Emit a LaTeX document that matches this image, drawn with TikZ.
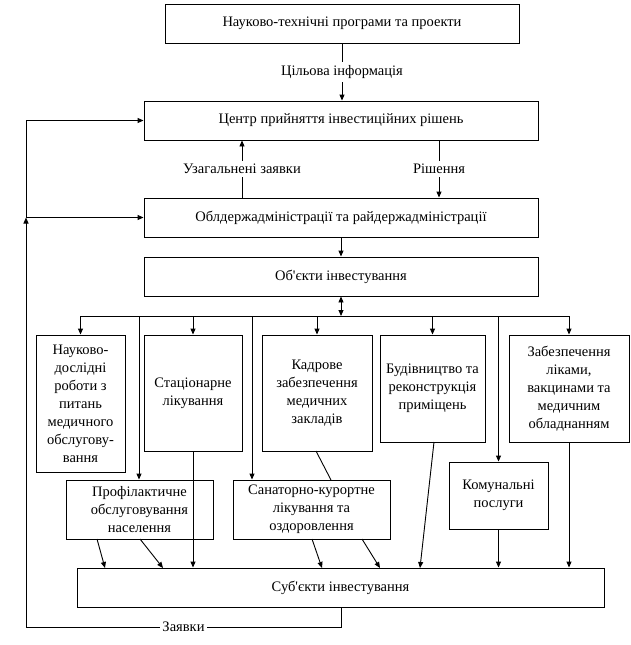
\documentclass[tikz,border=0pt]{standalone}
\usepackage{fontspec}
\setmainfont{Liberation Serif}[Ligatures=TeXOff]
\usetikzlibrary{arrows.meta}
\begin{document}
\begin{tikzpicture}[x=1pt,y=-1pt, line width=0.9pt,
  font=\fontsize{14.5pt}{18pt}\selectfont,
  box/.style={draw, rectangle, inner sep=0pt, align=center},
  arr/.style={-{Triangle[length=6pt,width=5pt]}},
  darr/.style={{Triangle[length=6pt,width=5pt]}-{Triangle[length=6pt,width=5pt]}},
  lbl/.style={fill=white, inner xsep=2pt, inner ysep=3pt}]
\useasboundingbox (0,0) rectangle (631,645);
\fill[white] (0,0) rectangle (631,645);
% main column
\node[box, minimum width=354pt, minimum height=39pt] (top) at (342,23.5) {Науково-технічні програми та проекти};
\node[box, minimum width=394pt, minimum height=39pt] (cent) at (341,120.5) {Центр прийняття інвестиційних рішень};
\node[box, minimum width=394pt, minimum height=39pt] (obl) at (341,217.5) {Облдержадміністрації та райдержадміністрації};
\node[box, minimum width=394pt, minimum height=39pt] (obj) at (341,276.5) {Об'єкти інвестування};
% row of boxes
\node[box, minimum width=89pt, minimum height=137pt] (b1) at (80.5,403.5) {Науково-\\дослідні\\роботи з\\питань\\медичного\\обслугову-\\вання};
\node[box, minimum width=98pt, minimum height=116pt] (b2) at (193,393) {Стаціонарне\\лікування};
\node[box, minimum width=110pt, minimum height=116pt] (b3) at (317,393) {Кадрове\\забезпечення\\медичних\\закладів};
\node[box, minimum width=105pt, minimum height=107pt] (b4) at (432.5,388.5) {Будівництво та\\реконструкція\\приміщень};
\node[box, minimum width=120pt, minimum height=107pt] (b5) at (569,388.5) {Забезпечення\\ліками,\\вакцинами та\\медичним\\обладнанням};
\node[box, minimum width=147pt, minimum height=59pt] (b6) at (139.5,509.5) {Профілактичне\\обслуговування\\населення};
\node[box, minimum width=157pt, minimum height=59pt] (b7) at (311.5,509.5) {Санаторно-курортне\\лікування та\\оздоровлення};
\node[box, minimum width=99pt, minimum height=67pt] (b8) at (498.5,495.5) {Комунальні\\послуги};
\node[box, minimum width=527pt, minimum height=39pt] (subj) at (340.5,587.5) {Суб'єкти інвестування};
% upper connectors
\draw[arr] (top.south) -- node[lbl] (l1) {Цільова інформація} (top.south |- cent.north);
\coordinate (ua) at (242,198);
\draw[arr] (ua) -- node[lbl] (l2) {Узагальнені заявки} (ua |- cent.south);
\coordinate (rs) at (439,140);
\draw[arr] (rs) -- node[lbl] (l3) {Рішення} (rs |- obl.north);
\draw[arr] (obl.south) -- (obj.north);
\coordinate (dm) at (341,316);
\draw[darr] (obj.south) -- (dm);
% distribution line
\draw (b1.north |- dm) -- (b5.north |- dm);
\coordinate (d6) at (139,316);
\coordinate (d7) at (252,316);
\draw[arr] (b1.north |- dm) -- (b1.north);
\draw[arr] (d6) -- (d6 |- b6.north);
\draw[arr] (b2.north |- dm) -- (b2.north);
\draw[arr] (d7) -- (d7 |- b7.north);
\draw[arr] (b3.north |- dm) -- (b3.north);
\draw[arr] (b4.north |- dm) -- (b4.north);
\draw[arr] (b8.north |- dm) -- (b8.north);
\draw[arr] (b5.north |- dm) -- (b5.north);
% lower connectors
\draw[arr] (b2.south) -- (b2.south |- subj.north);
\coordinate (s3) at (316,451);
\coordinate (t7) at (331,480);
\draw (s3) -- (t7);
\coordinate (s4) at (434,442);
\coordinate (t4) at (420,568);
\draw[arr] (s4) -- (t4);
\draw[arr] (b5.south) -- (b5.south |- subj.north);
\draw[arr] (b8.south) -- (b8.south |- subj.north);
\coordinate (s61) at (97,539);
\coordinate (t61) at (105,568);
\coordinate (s62) at (140,539);
\coordinate (t62) at (163,568);
\draw[arr] (s61) -- (t61);
\draw[arr] (s62) -- (t62);
\coordinate (s71) at (312,539);
\coordinate (t71) at (322,568);
\coordinate (s72) at (362,539);
\coordinate (t72) at (380,568);
\draw[arr] (s71) -- (t71);
\draw[arr] (s72) -- (t72);
% feedback loop
\coordinate (lb) at (341,627);
\coordinate (lp) at (26,627);
\coordinate (jn) at (26,217.5);
\draw[arr] (subj.south -| lb) -- (lb) -- node[lbl, inner ysep=0pt] (l4) {Заявки} (lp) -- (jn);
\draw[arr] (jn) -- (obl.west);
\draw[arr] (jn) |- (cent.west);
\end{tikzpicture}
\end{document}
